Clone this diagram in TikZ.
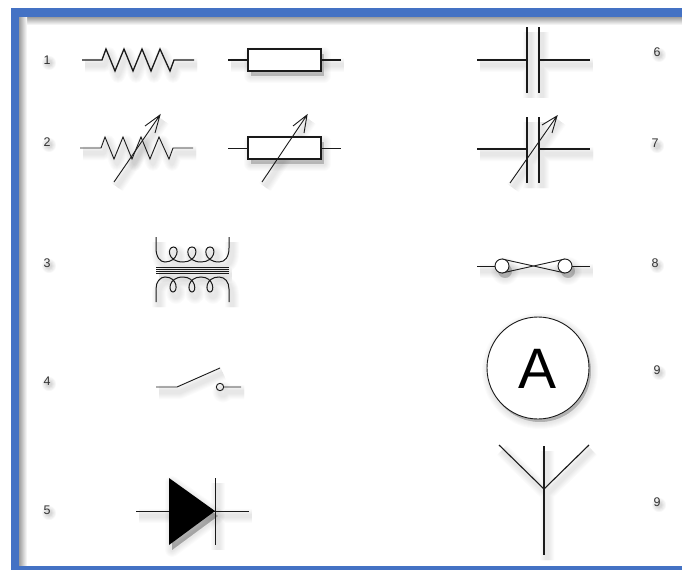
\documentclass[tikz,border=0pt]{standalone}
\usepackage{fontspec}
\setmainfont{Liberation Sans}
\definecolor{frameblue}{HTML}{4472C4}
\definecolor{inkc}{HTML}{1A1A1A}
\tikzset{
  x=1pt,y=-1pt,
  wire/.style={draw=inkc,line width=1.3pt,line join=miter},
  thinwire/.style={draw=inkc,line width=0.9pt,line join=miter},
  tuner/.style={draw=inkc,line width=0.9pt},
  numlabel/.style={font=\fontsize{12.5}{12.5}\selectfont,text=black!80,inner sep=0pt},
  blob/.style={fill=black,fill opacity=.03,draw=none}
}
\newcommand{\sdw}[2][]{\foreach \w in {14,12,10,8,6,4}{\draw[shift={(3,5)},draw=black,draw opacity=.015,line width=\w pt,line join=round,#1] #2;}}
\newcommand{\numshadow}[2]{\foreach \r in {7,6,5,4,3}{\fill[blob] (#1+2,#2+3) circle (\r);}}
\def\zigA{(82,60) -- (102,60) -- (106,49) -- (115,71) -- (124,49) -- (133,71) -- (142,49) -- (151,71) -- (160,49) -- (170,71) -- (174,60) -- (194,60)}
\def\zigB{(80,148) -- (101,148) -- (105,137) -- (114,159) -- (123,137) -- (132,159) -- (141,137) -- (150,159) -- (159,137) -- (169,159) -- (173,148) -- (193,148)}
\def\coilT{(156,237) -- (156,248) .. controls (156,257) and (160,262) .. (165,262) .. controls (178,262) and (180,247) .. (173.5,247) .. controls (167,247) and (167,262) .. (183,262) .. controls (197,262) and (199,247) .. (192,247) .. controls (185,247) and (186,262) .. (201,262) .. controls (215,262) and (217,247) .. (210,247) .. controls (203,247) and (204,262) .. (219,262) .. controls (225,262) and (229,257) .. (229,248) -- (229,237)}
\def\coilB{(156,302) -- (156,289) .. controls (156,282) and (160,277) .. (165,277) .. controls (178,277) and (178,292) .. (173,292) .. controls (168,292) and (168,277) .. (183,277) .. controls (196,277) and (197,292) .. (192,292) .. controls (187,292) and (187,277) .. (201,277) .. controls (214,277) and (215,292) .. (210,292) .. controls (205,292) and (205,277) .. (219,277) .. controls (225,277) and (229,282) .. (229,289) -- (229,302)}
\begin{document}
\begin{tikzpicture}
\useasboundingbox (0,0) rectangle (682,570);
\fill[white] (0,0) rectangle (682,570);
% frame inner shadow
\shade[top color=black!38,bottom color=white] (19,17) rectangle (682,25);
\shade[left color=black!38,right color=white] (19,17) rectangle (27,566);
% frame
\fill[frameblue] (11,8) rectangle (682,17);
\fill[frameblue] (11,8) rectangle (19,570);
\fill[frameblue] (11,566) rectangle (682,570);
% labels
\numshadow{47}{60}\numshadow{47}{142}\numshadow{47}{263}\numshadow{47}{381}\numshadow{47}{510}
\numshadow{657}{52}\numshadow{655}{143}\numshadow{655}{263}\numshadow{657}{370}\numshadow{657}{502}
\node[numlabel] (n1) at (47,60) {1};
\node[numlabel] (n2) at (47,142) {2};
\node[numlabel] (n3) at (47,263) {3};
\node[numlabel] (n4) at (47,381) {4};
\node[numlabel] (n5) at (47,510) {5};
\node[numlabel] (n6) at (657,52) {6};
\node[numlabel] (n7) at (655,143) {7};
\node[numlabel] (n8) at (655,263) {8};
\node[numlabel] (n9) at (657,370) {9};
\node[numlabel] (n10) at (657,502) {9};
% resistor 1
\sdw{\zigA}
\draw[wire] \zigA;
\sdw[fill=black,fill opacity=.035]{(248,49) rectangle (321,71)}
\sdw{(228,60) -- (248,60) (321,60) -- (341,60)}
\draw[wire] (228,60) -- (248,60) (321,60) -- (341,60);
\draw[wire,fill=white] (248,49) rectangle (321,71);
% resistor 2
\sdw{\zigB}
\sdw{(114,182) -- (160,115)}
\draw[thinwire] \zigB;
\draw[tuner] (114,182) -- (160,115) (145,126) -- (160,115) -- (155,133);
\sdw[fill=black,fill opacity=.035]{(248,137) rectangle (321,159)}
\sdw{(262,182) -- (307,115)}
\draw[thinwire] (228,148) -- (248,148) (321,148) -- (341,148);
\draw[wire,fill=white] (248,137) rectangle (321,159);
\draw[tuner] (262,182) -- (307,115) (293,126) -- (307,115) -- (304,133);
% transformer
\sdw{\coilT}
\sdw{\coilB}
\sdw{(156,270) -- (229,270)}
\draw[draw=inkc,line width=1pt] \coilT;
\draw[draw=inkc,line width=1pt] \coilB;
\draw[inkc,line width=.95pt] (156,267) -- (229,267) (156,269) -- (229,269) (156,271) -- (229,271) (156,273) -- (229,273);
% switch
\sdw{(156,387) -- (177,387) -- (220,368)}
\sdw{(220,387) circle (3.5) (224,387) -- (241,387)}
\draw[thinwire] (156,387) -- (177,387) -- (220,368);
\draw[thinwire] (220,387) circle (3.7) (223.7,387) -- (241,387);
% diode
\sdw{(136,511) -- (249,511) (215,478) -- (215,545)}
\sdw[fill=black,fill opacity=.05]{(169,478) -- (215,511) -- (169,545) -- cycle}
\draw[thinwire] (136,511) -- (249,511) (215,478) -- (215,545);
\fill[black] (169,478) -- (215,511) -- (169,545) -- cycle;
% capacitor
\sdw{(477,60) -- (527,60) (539,60) -- (590,60) (527,27) -- (527,93) (539,27) -- (539,93)}
\draw[wire] (477,60) -- (527,60) (539,60) -- (590,60) (527,27) -- (527,93) (539,27) -- (539,93);
% variable capacitor
\sdw{(477,149) -- (527,149) (539,149) -- (590,149) (527,117) -- (527,183) (539,117) -- (539,183) (510,183) -- (557,116)}
\draw[wire] (477,149) -- (527,149) (539,149) -- (590,149) (527,117) -- (527,183) (539,117) -- (539,183);
\draw[tuner] (510,183) -- (557,116) (542,125) -- (557,116) -- (552,133);
% fuse
\sdw[fill=black,fill opacity=.035]{(502,266) circle (7) (565,266) circle (7)}
\sdw{(477,266) -- (590,266)}
\draw[thinwire,line width=.7pt] (477,266) -- (495,266) (572,266) -- (590,266);
\draw[thinwire,line width=.9pt] (502,259) -- (565,273) (502,273) -- (565,259);
\draw[thinwire,fill=white] (502,266) circle (7) (565,266) circle (7);
% ammeter
\sdw[fill=black,fill opacity=.04,shift={(-1,-2)}]{(538,368) circle (51)}
\draw[thinwire,fill=white] (538,368) circle (51);
\node[inner sep=0pt,font=\fontsize{57}{57}\selectfont,text=black] (amm) at (538,369) {A};
% antenna
\sdw{(544,446) -- (544,555) (499,445) -- (544,489) -- (589,445)}
\draw[wire] (544,446) -- (544,555);
\draw[thinwire,line width=1.1pt] (499,445) -- (544,489) -- (589,445);
\end{tikzpicture}
\end{document}
